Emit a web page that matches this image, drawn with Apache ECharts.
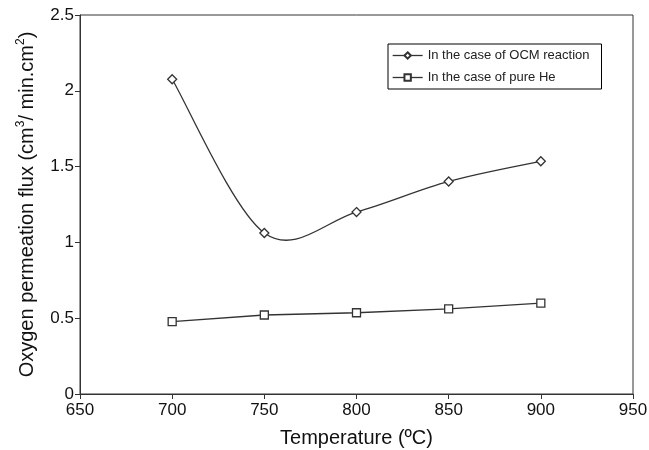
<!DOCTYPE html>
<html>
<head>
<meta charset="utf-8">
<script src="https://cdn.jsdelivr.net/npm/echarts@6/dist/echarts.min.js"></script>
<style>
  html, body { margin: 0; padding: 0; background: #fff; }
  #main { width: 649px; height: 450px; }
</style>
</head>
<body>
<div id="main"></div>
<script>
// temperatures (ºC)
var temps = [700, 750, 800, 850, 900];
// oxygen permeation flux, cm3/min.cm2
var ocmFlux = [2.076, 1.062, 1.2, 1.402, 1.535];
var heFlux = [0.477, 0.521, 0.536, 0.562, 0.6];
var seriesNames = ['In the case of OCM reaction', 'In the case of pure He'];

function pairs(xs, ys) {
  return xs.map(function (x, i) { return [x, ys[i]]; });
}

var ink = '#333';
var font = 'Liberation Sans, Arial, sans-serif';

// spreadsheet-style smoothed line through the OCM points (drawn in pixel space)
function renderSmooth(params, api) {
  if (params.dataIndex !== 0) return;
  var p = temps.map(function (t, i) { return api.coord([t, ocmFlux[i]]); });
  var n = p.length;
  var d = 'M' + p[0][0] + ' ' + p[0][1];
  for (var i = 0; i < n - 1; i++) {
    var a = p[Math.max(i - 1, 0)], b = p[i], c = p[i + 1], e = p[Math.min(i + 2, n - 1)];
    var c1x = b[0] + (c[0] - a[0]) / 6, c1y = b[1] + (c[1] - a[1]) / 6;
    var c2x = c[0] - (e[0] - b[0]) / 6, c2y = c[1] - (e[1] - b[1]) / 6;
    d += ' C' + c1x + ' ' + c1y + ' ' + c2x + ' ' + c2y + ' ' + c[0] + ' ' + c[1];
  }
  return {
    type: 'path',
    shape: { pathData: d },
    style: { fill: 'none', stroke: ink, lineWidth: 1.3 }
  };
}

var legendLine = { color: ink, width: 1.3, opacity: 1 };

var chart = echarts.init(document.getElementById('main'));
chart.setOption({
  animation: false,
  grid: {
    left: 80, right: 16, top: 15, bottom: 56,
    outerBoundsMode: 'none',
    show: true, borderColor: ink, borderWidth: 1
  },
  legend: {
    left: 388, top: 44,
    orient: 'vertical',
    itemWidth: 30, itemHeight: 8, itemGap: 9,
    padding: [5, 12, 5, 4],
    borderColor: '#000', borderWidth: 1,
    textStyle: { fontFamily: font, fontSize: 13, color: '#222' },
    data: [
      { name: seriesNames[0], lineStyle: legendLine },
      { name: seriesNames[1], lineStyle: legendLine }
    ]
  },
  xAxis: {
    type: 'value',
    min: 650, max: 950, interval: 50,
    axisLine: { lineStyle: { color: ink, width: 1 } },
    axisTick: { length: 5, lineStyle: { color: ink } },
    splitLine: { show: false },
    axisLabel: { fontFamily: font, fontSize: 17, color: '#111', margin: 8 },
    name: 'Temperature (ºC)',
    nameLocation: 'middle',
    nameGap: 34,
    nameTextStyle: { fontFamily: font, fontSize: 20, color: '#111' }
  },
  yAxis: {
    type: 'value',
    min: 0, max: 2.5, interval: 0.5,
    axisLine: { show: true, lineStyle: { color: ink, width: 1 } },
    axisTick: { show: true, length: 5, lineStyle: { color: ink } },
    splitLine: { show: false },
    axisLabel: { fontFamily: font, fontSize: 17, color: '#111', margin: 6 },
    name: 'Oxygen permeation flux (cm{sup|3}/ min.cm{sup|2})',
    nameLocation: 'middle',
    nameRotate: 90,
    nameGap: 41,
    nameTextStyle: {
      fontFamily: font, fontSize: 20, color: '#111', lineHeight: 24,
      rich: {
        sup: { fontFamily: font, fontSize: 12, color: '#111', verticalAlign: 'top', lineHeight: 24 }
      }
    }
  },
  series: [
    {
      type: 'custom',
      data: pairs(temps, ocmFlux),
      renderItem: renderSmooth,
      silent: true,
      z: 1
    },
    {
      name: seriesNames[0],
      type: 'line',
      data: pairs(temps, ocmFlux),
      symbol: 'diamond',
      symbolSize: 9,
      lineStyle: { color: ink, width: 1.3, opacity: 0 },
      itemStyle: { color: '#fff', borderColor: ink, borderWidth: 1.3 },
      z: 3
    },
    {
      name: seriesNames[1],
      type: 'line',
      data: pairs(temps, heFlux),
      symbol: 'rect',
      symbolSize: 8,
      lineStyle: { color: ink, width: 1.3 },
      itemStyle: { color: '#fff', borderColor: ink, borderWidth: 1.3 }
    }
  ]
});
</script>
</body>
</html>
